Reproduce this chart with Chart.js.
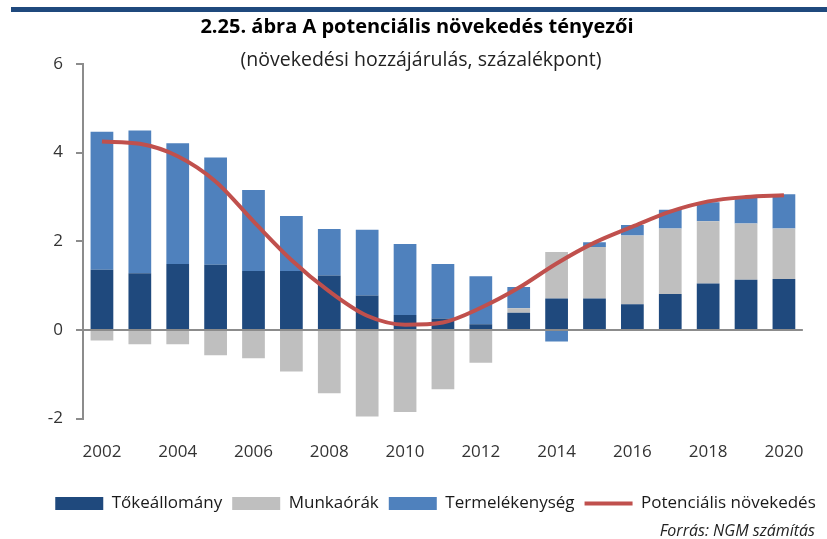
<!DOCTYPE html>
<html>
<head>
<meta charset="utf-8">
<script src="https://cdn.jsdelivr.net/npm/chart.js@4"></script>
<style>
  html, body { margin: 0; padding: 0; background: #fff; }
  #wrap { position: relative; width: 827px; height: 539px; font-family: "Open Sans", sans-serif; }
  #topbar { position: absolute; left: 11px; right: 0; top: 7px; height: 5px; background: #1f497d; }
  .txt { position: absolute; white-space: nowrap; }
  #title { left: 0; width: 834px; top: 12px; text-align: center; font-weight: bold; font-size: 20px; color: #000; }
  #subtitle { left: 0; width: 842px; top: 45px; text-align: center; font-size: 19.5px; color: #222; }
  #source { right: 12px; top: 519px; font-style: italic; font-size: 16px; color: #222; }
  canvas { position: absolute; left: 0; top: 0; }
</style>
</head>
<body>
<div id="wrap">
  <canvas id="myChart" width="827" height="539"></canvas>
  <div id="topbar"></div>
  <div class="txt" id="title">2.25. ábra A potenciális növekedés tényezői</div>
  <div class="txt" id="subtitle">(növekedési hozzájárulás, százalékpont)</div>
  <div class="txt" id="source">Forrás: NGM számítás</div>
</div>
<script>
const years = ['2002', '2003', '2004', '2005', '2006', '2007', '2008', '2009', '2010', '2011',
  '2012', '2013', '2014', '2015', '2016', '2017', '2018', '2019', '2020'];

const tokeallomany = [1.36, 1.28, 1.49, 1.47, 1.33, 1.33, 1.23, 0.78, 0.34, 0.26,
  0.13, 0.39, 0.71, 0.71, 0.58, 0.81, 1.05, 1.13, 1.15];
const munkaorak = [-0.24, -0.32, -0.32, -0.57, -0.64, -0.94, -1.43, -1.95, -1.85, -1.34,
  -0.74, 0.10, 1.05, 1.16, 1.55, 1.48, 1.40, 1.27, 1.14];
const termelekenyseg = [3.11, 3.22, 2.72, 2.42, 1.83, 1.24, 1.05, 1.48, 1.60, 1.23,
  1.08, 0.48, -0.26, 0.11, 0.24, 0.42, 0.43, 0.61, 0.77];
const potencialis = [4.25, 4.20, 3.92, 3.35, 2.45, 1.58, 0.87, 0.32, 0.12, 0.17,
  0.50, 0.95, 1.50, 1.97, 2.33, 2.67, 2.90, 3.00, 3.04];

const yTicks = [-2, 0, 2, 4, 6];

const axisGrey = '#8c8c8c';
const fontFamily = '"Open Sans", sans-serif';

const generateChart = () => {
  var ctx = document.getElementById('myChart').getContext('2d');
  var myChart = new Chart(ctx, {
    data: {
      labels: years,
      datasets: [
        { type: 'bar', label: 'Tőkeállomány', data: tokeallomany, backgroundColor: '#1f497d', order: 1 },
        { type: 'bar', label: 'Munkaórák', data: munkaorak, backgroundColor: '#bfbfbf', order: 1 },
        { type: 'bar', label: 'Termelékenység', data: termelekenyseg, backgroundColor: '#4f81bd', order: 1 },
        {
          type: 'line', label: 'Potenciális növekedés', data: potencialis, stack: 'line',
          borderColor: '#c0504d', backgroundColor: '#c0504d', borderWidth: 4,
          pointRadius: 0, cubicInterpolationMode: 'monotone', order: 0
        }
      ]
    },
    options: {
      responsive: false,
      animation: false,
      datasets: { bar: { barPercentage: 0.6, categoryPercentage: 1.0 } },
      layout: { padding: { left: 44, right: 0, top: 64, bottom: 17 } },
      plugins: {
        tooltip: { enabled: false },
        legend: {
          position: 'bottom',
          labels: {
            usePointStyle: true,
            pointStyleWidth: 48,
            boxHeight: 13,
            padding: 10,
            color: '#1a1a1a',
            font: { family: fontFamily, size: 17 },
            sort: (a, b) => a.datasetIndex - b.datasetIndex,
            generateLabels: (chart) => {
              const items = Chart.defaults.plugins.legend.labels.generateLabels(chart);
              items.forEach((it) => {
                it.pointStyle = it.datasetIndex === 3 ? 'line' : 'rect';
                if (it.datasetIndex !== 3) it.lineWidth = 0;
              });
              return items;
            }
          }
        }
      },
      scales: {
        x: {
          stacked: true,
          grid: { display: false, drawTicks: false },
          border: { display: false },
          ticks: {
            autoSkip: false,
            maxRotation: 0,
            padding: 23,
            color: '#333',
            font: { family: fontFamily, size: 17 },
            callback: function (value, index) {
              return index % 2 === 0 ? years[index] : '';
            }
          }
        },
        y: {
          stacked: true,
          min: -2,
          max: 6,
          z: 1,
          afterFit: (scale) => { scale.width = 39; },
          afterBuildTicks: (scale) => { scale.ticks = yTicks.map((v) => ({ value: v })); },
          border: { display: true, color: axisGrey, width: 2 },
          grid: {
            drawOnChartArea: true,
            drawTicks: true,
            tickLength: 7,
            lineWidth: 2,
            color: (c) => (c.tick && c.tick.value === 0 ? axisGrey : 'rgba(0,0,0,0)'),
            tickColor: axisGrey
          },
          ticks: {
            padding: 13,
            color: '#333',
            font: { family: fontFamily, size: 17 }
          }
        },
        yRight: {
          type: 'linear',
          position: 'right',
          display: true,
          afterFit: (scale) => { scale.width = 24; },
          grid: { display: false },
          border: { display: false },
          ticks: { display: false }
        }
      }
    }
  });
  return myChart;
};

generateChart();
</script>
</body>
</html>
